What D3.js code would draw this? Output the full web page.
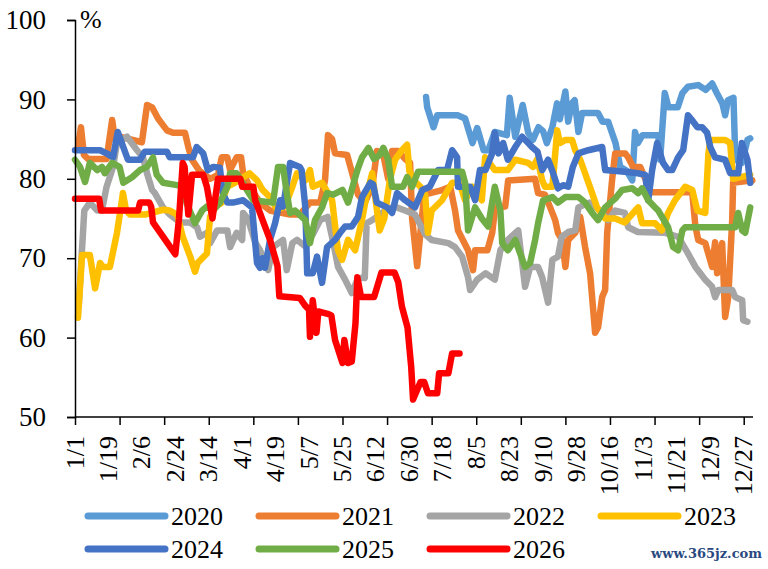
<!DOCTYPE html>
<html>
<head>
<meta charset="utf-8">
<script src="https://cdn.jsdelivr.net/npm/d3@7"></script>
</head>
<body style="margin:0; background:#fff">
<div id="chart"></div>
<script>
// ----- dati: [giorno dell'anno, valore %]
var s2020 = [[189,90.3],[189.6,89],[193,86.5],[195,88],[206,88],[210,87.6],[214,84.5],[216.5,86.4],[220,83.6],[222.5,83.6],[226,85.9],[232.5,85.5],[234,90.2],[237,85.3],[241,89.3],[244,85.8],[246.5,84.9],[249.5,86.5],[252,86],[254,84.5],[257,86.5],[259.5,89.5],[261,87.5],[264,91],[265.5,87.2],[267.5,89.5],[269,89.9],[271,85.9],[273,88.3],[281.5,88.3],[284,87.2],[287,87.2],[291,84.5],[293.5,81.5],[297,81],[300,79.8],[301.5,85.9],[303,84.5],[305.5,85.5],[314,85.5],[315,82.4],[317.5,90.8],[319.5,89],[324.5,89],[327,90.8],[330,91.6],[335.5,91.8],[339.5,91.2],[343,92],[345.5,90.8],[348.5,89.5],[350,88],[351.5,89.9],[354.5,90.2],[355.5,82.4],[359,82],[362,84.9],[363.5,85.1]];

var s2021 = [[1.6,84],[3.2,86.5],[4.8,83],[7,82.5],[17,82.5],[20,87.4],[21.5,84.9],[24,85.3],[36,84.6],[38.8,89.3],[41.5,89],[44.7,87.6],[49.5,86.1],[52.8,85.8],[59.2,85.8],[61,84],[63,82.4],[67,81],[72.7,80],[77,80.5],[79,82.7],[82,82.7],[83.5,81.1],[87,82.7],[89.4,82.7],[90.5,80.7],[94,79],[99.6,77],[105,76],[115.8,75.5],[121,75.5],[126.5,77],[132,77],[134.6,79.8],[136.2,85.5],[138.4,85],[140,83.2],[146.5,83],[149.2,80.7],[152.4,78],[156,77],[160,79],[162.6,83.5],[166,83],[168.6,80],[170.7,83.5],[174,83.5],[177.7,82.5],[180.4,82],[181.5,75],[184.2,69],[186.3,74],[188,78],[196.6,78.5],[202,79],[204.6,76],[206.2,73.5],[211.6,71],[214.3,68.5],[215.4,71],[222,71],[224.6,73.2],[226.2,76.4],[231.6,76.5],[233.2,79.8],[247.7,80],[249.3,78.2],[253,78],[255.8,76.4],[258.5,74.8],[260,73.2],[262.2,72.3],[264,68.9],[265.5,72.3],[269.3,73.2],[272,75.2],[274.6,71.4],[277.3,68.1],[280,60.6],[281.6,61.3],[283.8,65.1],[285.4,66],[286.5,73.2],[289.2,80],[290.8,83.2],[296.2,83.2],[297.8,82.7],[300.5,81.5],[304.3,81.5],[307,80],[309.6,78.5],[310.7,78.3],[332.3,78.3],[334,74],[335.5,72.3],[339.3,71.9],[343,68.9],[344.6,72],[345.7,68.1],[348.4,71.9],[350,62.6],[351.7,65.1],[353.8,74.8],[354.3,79.5],[364.6,79.8]];

var s2022 = [[2,63.9],[5,76],[8,77],[12,76],[14.5,76],[17,79],[20.5,81.5],[22.6,84.5],[28,85.3],[33.4,83.6],[36.6,82.7],[39,80.5],[41.5,78.6],[43,78.2],[47.4,76.4],[51,75.5],[56.5,74.5],[62,74.5],[65.7,73.9],[67.3,72.7],[71,73.2],[72.7,71.9],[76.5,73.5],[82,73.5],[83.5,71.4],[87,73.2],[90,72.3],[90.5,75.7],[93,75],[97,72],[99.6,71],[104,68.5],[106.6,71.4],[112,72.3],[114,68.5],[117,71.9],[119.5,72.3],[124,71.5],[128,73],[132,74.8],[136,75.2],[139,72],[141.6,68.9],[145.4,67.3],[149,65.6],[152,67.3],[155,67.6],[156,67.5],[157,74.4],[160,74.8],[167,76],[172,76.5],[177.7,76],[183,75.5],[188.5,73],[192,72.3],[201,71.9],[204.6,71.4],[208.4,70.2],[211.6,67.6],[212.7,66],[216.5,67.3],[221,68.1],[226,67.3],[229,71],[233,72.3],[238.6,73.5],[242.3,66.4],[245,68.9],[249.3,68.9],[251.5,67.6],[254.7,64.4],[257,69.8],[260,70.2],[262,72.7],[265.5,73.3],[269.3,73.5],[271,76.4],[277,77],[282.7,76],[287,74.8],[290.8,76],[296,75.7],[297.8,73.9],[303,73.3],[317.7,73.2],[324.7,72.7],[330,70.6],[334,68.9],[339.3,67.3],[343,66.4],[344.6,65.1],[346.3,66],[353.8,66],[355.4,65.1],[359.2,64.7],[359.7,62.2],[362,62]];

var s2023 = [[1.6,62.5],[3.8,70.4],[8,70.4],[10.8,66.2],[13.5,69.4],[15,68.9],[18.8,68.9],[22.6,73.2],[24.7,76.4],[25.8,78.2],[27.5,76],[29.6,75.5],[37.7,75.5],[47.4,76.1],[51,76],[55,75.5],[58,72.7],[62,70.2],[64.6,68.3],[66,69.4],[71,70.6],[72.7,75.2],[75.4,76.5],[79,77],[82,79],[86,79.5],[94,80.7],[98,79.8],[101,78.6],[105,77.7],[108.8,76.1],[113,76.5],[117,79],[119.5,80.7],[124,79.8],[126.5,81.1],[128,79],[133,79.5],[138.4,77.3],[141.6,71],[143.8,69.8],[147,72.3],[150.8,71],[154.5,74.8],[157,78],[160,80.7],[162,77],[164,73.5],[166.5,75],[169.6,80],[172.3,82.4],[176,83.6],[178.8,84.3],[180,81],[181.5,80],[186,79],[188.5,78],[190,73.2],[192,76],[197.6,77.3],[203,79.5],[207,79.5],[210,77.3],[214,79],[219,77.3],[220.8,82.7],[226,81.1],[233,81.1],[237,82.4],[244,82],[246.6,81.5],[249,82.5],[251.5,79.8],[253,79],[257,79],[259.6,86.1],[261,84.5],[264,84.9],[267.6,84.9],[269.3,83.6],[272,82.4],[274.6,80.7],[278.4,78.2],[281,76.4],[285.4,75],[290.8,75],[296,74.5],[301.6,76],[303.2,76.4],[305.3,74.4],[312.3,74.4],[316,73.5],[319.3,75.7],[323,77.3],[328.5,79],[332.3,78.6],[335,76],[339.3,75.7],[341,83.2],[342,84.9],[350,84.9],[352.7,84.5],[354.3,80],[363.5,80.5]];

var s2024 = [[0,83.6],[13.5,83.6],[17,83.2],[20.5,82.7],[23,85.9],[26,84],[28.5,82.4],[35,82.4],[37.5,83.4],[49.5,83.4],[51,82.7],[63.5,82.7],[65.5,84],[69,83.2],[71.5,81.1],[74.5,81.5],[78,81.4],[79.5,78.2],[82,77],[85,77],[90.5,77.3],[95.3,76.4],[98,69.4],[99.6,68.8],[101,70],[102.3,68.8],[105,72.3],[107.7,74.4],[110.4,77.3],[112,76.5],[115.8,82],[121,81.5],[122,81.1],[124,76.4],[125,68.1],[128,68.1],[130.3,70.2],[133,66.9],[135.7,71.4],[140,72.3],[142.7,73.2],[145.4,74],[149,74],[152.4,75.2],[154.5,77.7],[159,79.5],[160.5,79.3],[162.5,77],[168,76.4],[170.7,75.7],[173.4,78.2],[177.7,77.3],[183,76.4],[187,78.6],[191,79],[195.5,81.1],[200.3,81.1],[203,83.6],[205.7,82.7],[206.2,79],[212.7,79],[215.4,77.3],[218,81.1],[221,81.1],[224.6,83.2],[226,85.8],[228,83.2],[230.5,84.5],[233,82.4],[237,84],[240.7,85.3],[244,84.5],[246,84],[249,83.4],[251.5,81.1],[254.7,82.4],[257.4,80.7],[260,78.8],[262.8,79.2],[265.5,79],[268,81.5],[271,83.2],[276.3,83.6],[283.8,84],[285.4,81.1],[296,80.9],[303,80.7],[307,80.5],[308.6,77.3],[310.7,81.1],[313.4,84.5],[315,83.2],[316.6,82],[319.3,81.1],[321.5,81.1],[324.7,82.7],[327.4,83.6],[330,88],[332.8,87.2],[335,86.5],[337.6,86.5],[340.3,85.8],[342,84],[344.6,82.7],[350,82.4],[352.7,80.7],[357,80.7],[359,84.5],[362,82.4],[363.5,79.5]];

var s2025 = [[0,82.4],[2.7,81.5],[5.4,79.6],[8,82],[12,81.1],[14.5,81.5],[16,80.7],[20,82],[24,81.5],[26,79.5],[30.7,80.2],[35,81.1],[38.8,81.5],[42,82.7],[44,80.5],[47.4,79.5],[55,79.2],[58,79],[60,77],[64.6,74.4],[68.4,76],[71,76.5],[74.3,76],[78,77],[82,79],[83.5,80.7],[87,80.7],[91.5,79],[96,77.3],[106.6,77],[109.3,81.5],[112,81.5],[114,78.2],[115.8,75.7],[118.5,76],[124,74.8],[126.5,71.9],[129.2,74.8],[133,76.4],[135.7,78.2],[139,78],[144,78.6],[147,77],[152,81.1],[154.5,82.7],[158,83.9],[161,82.5],[164,83],[166,83.9],[168.6,82.4],[170.7,79],[176.6,79],[178.8,80.2],[181.5,79],[184.7,80.9],[208.4,80.9],[210,79.5],[211.6,73.5],[215.4,76.4],[219,75],[222.4,74],[226,79],[229,76],[230,71.9],[233,71],[237,72.3],[242.3,68.9],[245,69.4],[247.7,72.3],[249.3,74.4],[252,77.3],[257,77.7],[260,77],[264,77.7],[271,77.7],[274.6,77],[278.4,75.7],[281.6,74.8],[285.4,76.4],[290.8,77.5],[294.6,78.6],[300,78.8],[303.2,78.2],[305.3,78.8],[308.6,77.3],[312.3,76.4],[314,76],[319.3,73.9],[322,71.4],[324.7,71],[327,73.5],[328.5,73.9],[355.4,73.9],[357,75.7],[359.2,73.5],[360.8,73.2],[363.5,76.4]];

var s2026 = [[0,77.5],[13,77.5],[14,76],[34,76],[35,77],[40,77],[41,76.5],[42,74.5],[54,70.5],[56,75],[58,82],[59,81.5],[61,75.5],[63,80.5],[69,80.5],[71,79],[74,75],[77,80],[89,80],[90,79],[96,79],[97,77.3],[101,74.8],[105,72.3],[109,69],[110,65.2],[121,65],[124,64],[126,63.5],[126.5,60.1],[128,64.7],[130,60.6],[131,63.3],[136,63],[138,62.8],[140,59.7],[144,56.8],[145,59.7],[147,56.8],[149,57],[151,61.8],[152,67.6],[154,65.1],[161,65.1],[165,68.2],[172,68.2],[174,67],[176,63.9],[179,61.3],[181,56.3],[182,52.2],[186,54.4],[188,54.4],[190,53],[195,53],[196,55.5],[201,55.5],[203,58],[207,58]];

var years = ["2020", "2021", "2022", "2023", "2024", "2025", "2026"];
var seriesData = [s2020, s2021, s2022, s2023, s2024, s2025, s2026];
var colors = ["#5B9BD5", "#ED7D31", "#A5A5A5", "#FFC000", "#4472C4", "#70AD47", "#FF0000"];

var yTicks = [50, 60, 70, 80, 90, 100];
var xLabelDays = [0, 18, 36, 54, 72, 90, 108, 126, 144, 162, 180, 198, 216, 234, 252, 270, 288, 306, 324, 342, 360];
var xLabels = ["1/1", "1/19", "2/6", "2/24", "3/14", "4/1", "4/19", "5/7", "5/25", "6/12", "6/30", "7/18", "8/5", "8/23", "9/10", "9/28", "10/16", "11/3", "11/21", "12/9", "12/27"];
var xTickDays = d3.range(0, 361, 24);

var serifFont = "Liberation Serif";

// ----- dimensioni
var w = 768;
var h = 569;

var svg = d3.select("#chart").append("svg")
    .attr("width", w)
    .attr("height", h);

var x = d3.scaleLinear().domain([0, 365]).range([75, 753]);
var y = d3.scaleLinear().domain([50, 100]).range([417, 20]);

// ----- linee
var line = d3.line()
    .x(function (d) { return x(d[0]); })
    .y(function (d) { return y(d[1]); });

svg.append("g").selectAll("path")
    .data(seriesData)
    .enter().append("path")
    .attr("d", line)
    .attr("fill", "none")
    .attr("stroke", function (d, i) { return colors[i]; })
    .attr("stroke-width", 6.5)
    .attr("stroke-linejoin", "round")
    .attr("stroke-linecap", "round");

// ----- asse Y
var yAxis = svg.append("g").attr("transform", "translate(75,0)")
    .call(d3.axisLeft(y).tickValues(yTicks).tickSize(8).tickFormat(d3.format("d")));
yAxis.attr("font-family", null).attr("font-size", null);
yAxis.select(".domain").attr("stroke", "#000").attr("stroke-width", 1.5);
yAxis.selectAll(".tick line").attr("stroke", "#000").attr("stroke-width", 1.5);
yAxis.selectAll(".tick text")
    .attr("x", -29)
    .attr("fill", "#000")
    .style("font-family", serifFont)
    .style("font-size", "27px");

svg.append("text")
    .attr("x", 80)
    .attr("y", 28)
    .style("font-family", serifFont)
    .style("font-size", "26px")
    .text("%");

// ----- asse X
var xAxis = svg.append("g").attr("transform", "translate(0,417)")
    .call(d3.axisBottom(x).tickValues(xTickDays).tickSize(8).tickFormat(""));
xAxis.select(".domain").attr("stroke", "#000").attr("stroke-width", 1.5).attr("d", "M75,0H753");
xAxis.selectAll(".tick line").attr("stroke", "#000").attr("stroke-width", 1.5);

svg.append("g").selectAll("text")
    .data(xLabels)
    .enter().append("text")
    .attr("transform", function (d, i) {
        return "translate(" + x(xLabelDays[i]) + ",436) rotate(-90)";
    })
    .attr("text-anchor", "end")
    .attr("dominant-baseline", "central")
    .style("font-family", serifFont)
    .style("font-size", "26px")
    .text(function (d) { return d; });

// ----- legenda
var legend = svg.append("g").selectAll("g")
    .data(years)
    .enter().append("g")
    .attr("transform", function (d, i) {
        return "translate(" + (88 + (i % 4) * 171) + "," + (i < 4 ? 516 : 549) + ")";
    });

legend.append("line")
    .attr("x1", 0).attr("x2", 77)
    .attr("stroke", function (d, i) { return colors[i]; })
    .attr("stroke-width", 7)
    .attr("stroke-linecap", "round");

legend.append("text")
    .attr("x", 83)
    .attr("dominant-baseline", "central")
    .style("font-family", serifFont)
    .style("font-size", "26px")
    .text(function (d) { return d; });

svg.append("text")
    .attr("x", 762)
    .attr("y", 558)
    .attr("text-anchor", "end")
    .attr("fill", "#2A4A7F")
    .style("font-family", "DejaVu Serif")
    .style("font-size", "13px")
    .style("font-weight", "bold")
    .text("www.365jz.com");
</script>
</body>
</html>
